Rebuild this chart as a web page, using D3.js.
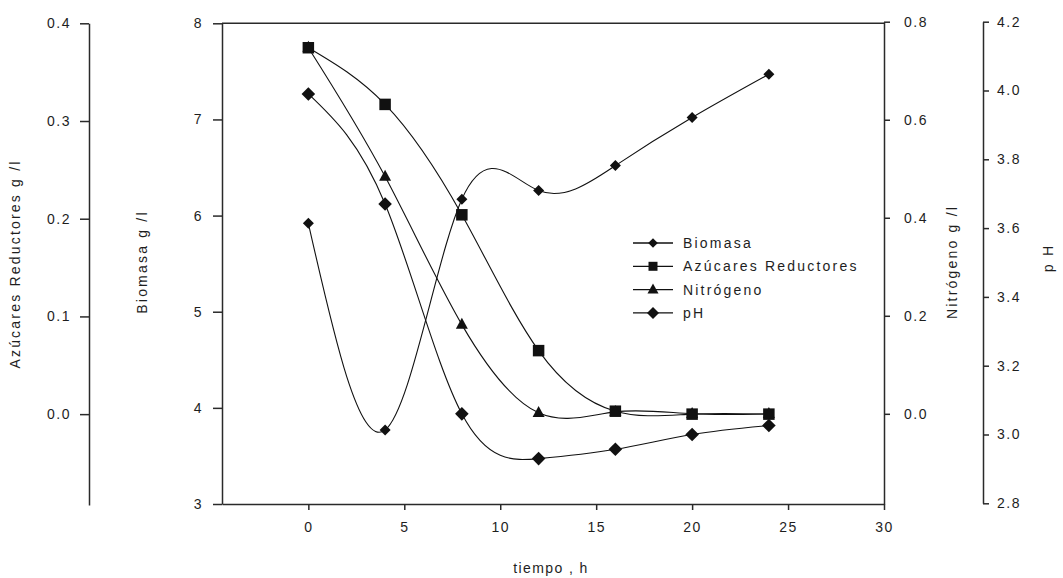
<!DOCTYPE html>
<html>
<head>
<meta charset="utf-8">
<script src="https://cdn.jsdelivr.net/npm/d3@7"></script>
<style>
  html, body { margin: 0; padding: 0; background: #fff; }
  svg { display: block; font-family: "Liberation Sans", Arial, sans-serif; }
  .axis path, .axis line { stroke: #2a2a2a; stroke-width: 1.5; }
  .axis text { fill: #1e1e1e; font-size: 14px; letter-spacing: 1.5px; }
  .title { fill: #1e1e1e; font-size: 14px; letter-spacing: 2.2px; }
  .xtitle { fill: #1e1e1e; font-size: 14px; letter-spacing: 1.4px; }
  .legend text { fill: #1e1e1e; font-size: 14px; letter-spacing: 2.2px; }
</style>
</head>
<body>
<svg id="chart" width="1063" height="578"></svg>
<script>
// Fermentation kinetics: sampling times (h)
const times = [0, 4, 8, 12, 16, 20, 24];
// Biomass, g/l
const biomasa = [5.92, 3.77, 6.17, 6.26, 6.52, 7.02, 7.47];
// Reducing sugars, g/l
const azucares = [0.375, 0.317, 0.204, 0.065, 0.003, 0.0, 0.0];
// Nitrogen, g/l
const nitrogeno = [0.747, 0.484, 0.182, 0.002, 0.004, 0.0, 0.0];
// pH
const ph = [3.99, 3.67, 3.06, 2.93, 2.957, 3.0, 3.026];

const xTicks = [0, 5, 10, 15, 20, 25, 30];
const bioTicks = [3, 4, 5, 6, 7, 8];
const azTicks = [0.0, 0.1, 0.2, 0.3, 0.4];
const nTicks = [0.0, 0.2, 0.4, 0.6, 0.8];
const phTicks = [2.8, 3.0, 3.2, 3.4, 3.6, 3.8, 4.0, 4.2];

const legendLabels = ["Biomasa", "Azúcares Reductores", "Nitrógeno", "pH"];

const svg = d3.select("#chart");

const x = d3.scaleLinear().domain([-4.5, 30]).range([222, 884]);
const yBio = d3.scaleLinear().domain([3, 8]).range([504, 23.3]);
const yAz = d3.scaleLinear().domain([-0.093, 0.4]).range([505, 23.3]);
const yN = d3.scaleLinear().domain([-0.184, 0.8]).range([504, 21.7]);
const yPH = d3.scaleLinear().domain([2.8, 4.2]).range([503.3, 21.7]);

// ---- axes ----
svg.append("g").attr("class", "axis")
  .attr("transform", "translate(0,504)")
  .call(d3.axisBottom(x).tickValues(xTicks).tickSize(6).tickSizeOuter(0).tickPadding(12).tickFormat(d3.format("d")));

svg.append("g").attr("class", "axis")
  .attr("transform", "translate(222,0)")
  .call(d3.axisLeft(yBio).tickValues(bioTicks).tickSize(9).tickSizeOuter(0).tickPadding(10).tickFormat(d3.format("d")));

svg.append("g").attr("class", "axis")
  .attr("transform", "translate(89,0)")
  .call(d3.axisLeft(yAz).tickValues(azTicks).tickSize(9).tickSizeOuter(0).tickPadding(9).tickFormat(d3.format(".1f")));

svg.append("g").attr("class", "axis")
  .attr("transform", "translate(884,0)")
  .call(d3.axisRight(yN).tickValues(nTicks).tickSize(6).tickSizeOuter(0).tickPadding(14).tickFormat(d3.format(".1f")));

svg.append("g").attr("class", "axis")
  .attr("transform", "translate(983,0)")
  .call(d3.axisRight(yPH).tickValues(phTicks).tickSize(6).tickSizeOuter(0).tickPadding(8).tickFormat(d3.format(".1f")));

// top frame line
svg.append("line")
  .attr("x1", x.range()[0]).attr("x2", x.range()[1])
  .attr("y1", yBio(8)).attr("y2", yBio(8))
  .attr("stroke", "#2a2a2a").attr("stroke-width", 1.5);

// ---- axis titles ----
function vTitle(tx, ty, text) {
  svg.append("text").attr("class", "title")
    .attr("transform", `translate(${tx},${ty}) rotate(-90)`)
    .attr("text-anchor", "middle")
    .text(text);
}
vTitle(20, 264, "Azúcares Reductores g /l");
vTitle(147, 262, "Biomasa g /l");
vTitle(957, 262, "Nitrógeno g /l");
vTitle(1053, 258, "p H");

svg.append("text").attr("class", "xtitle")
  .attr("x", 551).attr("y", 573)
  .attr("text-anchor", "middle")
  .text("tiempo , h");

// ---- marker shapes ----
function diamond(r) { return `M0,${-r}L${r},0L0,${r}L${-r},0Z`; }
function square(s) { const h = s / 2; return `M${-h},${-h}H${h}V${h}H${-h}Z`; }
function triangle(w, h) { return `M0,${-h * 0.62}L${w / 2},${h * 0.38}L${-w / 2},${h * 0.38}Z`; }

const series = [
  { values: biomasa, y: yBio, shape: diamond(5.5) },
  { values: azucares, y: yAz, shape: square(11.5) },
  { values: nitrogeno, y: yN, shape: triangle(12, 11) },
  { values: ph, y: yPH, shape: diamond(6.8) }
];

const plot = svg.append("g");

series.forEach(s => {
  const pts = times.map((t, i) => [t, s.values[i]]);
  const line = d3.line()
    .x(d => x(d[0]))
    .y(d => s.y(d[1]))
    .curve(d3.curveNatural);
  plot.append("path")
    .attr("d", line(pts))
    .attr("fill", "none")
    .attr("stroke", "#111")
    .attr("stroke-width", 1.1);
});

series.forEach(s => {
  plot.selectAll(null)
    .data(times.map((t, i) => [t, s.values[i]]))
    .enter().append("path")
    .attr("transform", d => `translate(${x(d[0])},${s.y(d[1])})`)
    .attr("d", s.shape)
    .attr("fill", "#111");
});

// ---- legend ----
const legend = svg.append("g").attr("class", "legend");
const legShapes = [diamond(4.8), square(9), triangle(11, 10), diamond(6)];
legendLabels.forEach((label, i) => {
  const cy = 243 + i * 23.3;
  legend.append("line")
    .attr("x1", 633).attr("x2", 673)
    .attr("y1", cy).attr("y2", cy)
    .attr("stroke", "#111").attr("stroke-width", 1.3);
  legend.append("path")
    .attr("transform", `translate(653,${cy})`)
    .attr("d", legShapes[i])
    .attr("fill", "#111");
  legend.append("text")
    .attr("x", 683).attr("y", cy + 5)
    .text(label);
});
</script>
</body>
</html>
